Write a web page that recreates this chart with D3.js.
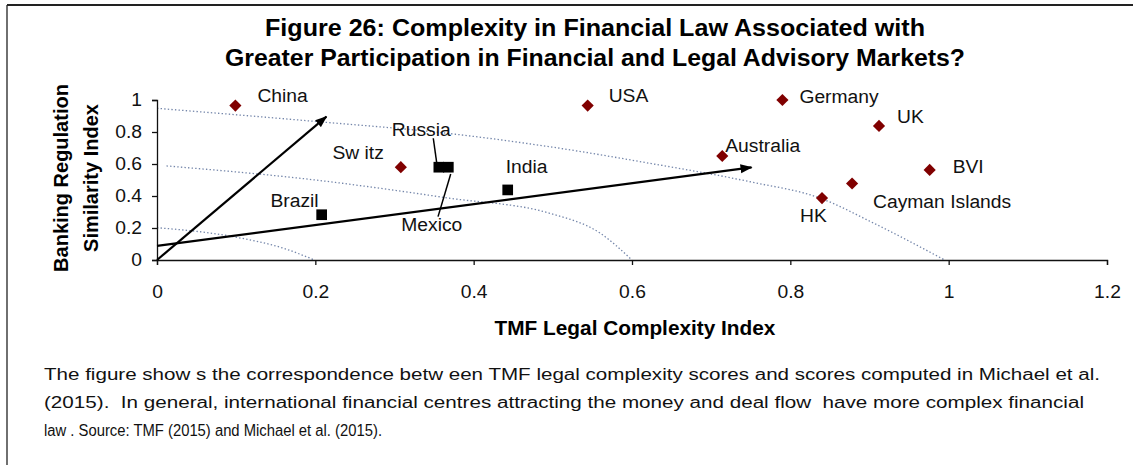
<!DOCTYPE html>
<html>
<head>
<meta charset="utf-8">
<script src="https://cdn.jsdelivr.net/npm/d3@7"></script>
<style>
  body { margin: 0; background: #fff; }
  text { font-family: Arial, "Liberation Sans", sans-serif; }
</style>
</head>
<body>
<script>

var width  = 1133;
var height = 465;

// financial centres (diamonds)
var centres    = ['China', 'USA', 'Germany', 'UK', 'Australia', 'BVI', 'Cayman Islands', 'HK', 'Sw itz'];
var centresTmf = [0.099, 0.544, 0.790, 0.912, 0.714, 0.976, 0.878, 0.840, 0.308];
var centresReg = [0.965, 0.965, 1.000, 0.838, 0.650, 0.563, 0.478, 0.387, 0.580];

// emerging markets (squares)
var emerging    = ['Brazil', 'Russia', 'Mexico', 'India'];
var emergingTmf = [0.208, 0.356, 0.368, 0.443];
var emergingReg = [0.283, 0.580, 0.580, 0.438];

var xTicks = [0, 0.2, 0.4, 0.6, 0.8, 1, 1.2];
var yTicks = [0, 0.2, 0.4, 0.6, 0.8, 1];

// arrows drawn on the chart, [start, end]
var arrows = [
  [[0, 0],     [0.214, 0.896]],
  [[0, 0.088], [0.751, 0.579]]
];

// dotted iso-curves
var curves = [
  [[0, 0.948], [0.2, 0.866], [0.37, 0.79], [0.496, 0.708], [0.623, 0.604], [0.749, 0.489], [0.838, 0.386], [0.905, 0.231], [0.995, 0]],
  [[0.012, 0.588], [0.2, 0.5], [0.37, 0.386], [0.496, 0.292], [0.56, 0.167], [0.6, 0]],
  [[0, 0.202], [0.096, 0.146], [0.16, 0.073], [0.199, 0]]
];

// leader lines for overlapping labels
var leaders = [
  [[0.349, 0.761], [0.354, 0.583]],
  [[0.371, 0.538], [0.355, 0.271]]
];

var titleLines = ['Figure 26: Complexity in Financial Law Associated with',
                  'Greater Participation in Financial and Legal Advisory Markets?'];
var yTitleLines = ['Banking Regulation', 'Similarity Index'];
var xTitle = 'TMF Legal Complexity Index';
var captionLines = [
  'The figure show s the correspondence betw een TMF legal complexity scores and scores computed in Michael et al.',
  '(2015).  In general, international financial centres attracting the money and deal flow  have more complex financial',
  'law . Source: TMF (2015) and Michael et al. (2015).'
];

// layout: title / caption line widths, label offsets from the marker (px)
var titleWidths   = [660, 740];
var captionWidths = [1056, 1040, 338];
var labelPos = {
  'China':          [22, -4, 'start'],
  'USA':            [21, -4, 'start'],
  'Germany':        [17, 3, 'start'],
  'UK':             [18, -3, 'start'],
  'Australia':      [3, -4, 'start'],
  'BVI':            [23, 3, 'start'],
  'Cayman Islands': [21, 24, 'start'],
  'HK':             [-22, 24, 'start'],
  'Sw itz':         [-17, -8, 'end'],
  'Brazil':         [-3, -8, 'end'],
  'Russia':         [-47, -31, 'start'],
  'India':          [-2, -17, 'start'],
  'Mexico':         [-47, 64, 'start']
};

function widen(sel, f) {
  sel.each(function(){
    var w = this.getComputedTextLength();
    d3.select(this).attr('textLength', w * f).attr('lengthAdjust', 'spacingAndGlyphs');
  });
}

var x = d3.scaleLinear().domain([0, 1.2]).range([157, 1107]);
var y = d3.scaleLinear().domain([0, 1]).range([260, 100]);

var svg = d3.select('body')
            .append('svg')
            .attr('width', width)
            .attr('height', height);

// frame
svg.append('line').attr('x1', 7).attr('x2', width).attr('y1', 5).attr('y2', 5)
   .attr('stroke', '#222').attr('stroke-width', 2);
svg.append('line').attr('x1', 7).attr('x2', 7).attr('y1', 5).attr('y2', height)
   .attr('stroke', '#222').attr('stroke-width', 1.3);

// title
svg.append('g').selectAll('text')
   .data(titleLines)
   .enter()
   .append('text')
   .attr('x', 595)
   .attr('y', function(d, i){ return 36 + i * 30; })
   .attr('text-anchor', 'middle')
   .attr('font-size', '23px')
   .attr('font-weight', 'bold')
   .attr('textLength', function(d, i){ return titleWidths[i]; })
   .attr('lengthAdjust', 'spacingAndGlyphs')
   .text(function(d){ return d; });

// dotted curves
var curveLine = d3.line()
                  .x(function(d){ return x(d[0]); })
                  .y(function(d){ return y(d[1]); })
                  .curve(d3.curveMonotoneX);

svg.append('g').selectAll('path')
   .data(curves)
   .enter()
   .append('path')
   .attr('d', curveLine)
   .attr('fill', 'none')
   .attr('stroke', '#7486aa')
   .attr('stroke-width', 1.3)
   .attr('stroke-dasharray', '1.4,2.2');

// axes
var xAxis = d3.axisBottom(x).tickValues(xTicks).tickSize(5).tickPadding(20)
              .tickFormat(function(d){ return d3.format('~g')(d); });
var yAxis = d3.axisLeft(y).tickValues(yTicks).tickSize(5).tickPadding(10)
              .tickFormat(function(d){ return d3.format('~g')(d); });

var gx = svg.append('g').attr('transform', 'translate(0,260)').call(xAxis);
var gy = svg.append('g').attr('transform', 'translate(157,0)').call(yAxis);

[gx, gy].forEach(function(g){
  g.select('.domain').attr('stroke', '#111').attr('stroke-width', 1.3);
  g.selectAll('.tick line').attr('stroke', '#111').attr('stroke-width', 1.3);
  g.selectAll('.tick text').attr('font-size', '18px').attr('fill', '#111')
   .attr('font-family', 'Arial, "Liberation Sans", sans-serif');
  widen(g.selectAll('.tick text'), 1.07);
});

// axis titles
svg.append('text')
   .attr('x', 635).attr('y', 335)
   .attr('text-anchor', 'middle')
   .attr('font-size', '20px').attr('font-weight', 'bold')
   .text(xTitle)
   .call(widen, 1.04);

svg.append('g').selectAll('text')
   .data(yTitleLines)
   .enter()
   .append('text')
   .attr('transform', function(d, i){ return 'translate(' + (68 + i * 30) + ',178) rotate(-90)'; })
   .attr('text-anchor', 'middle')
   .attr('font-size', '20px').attr('font-weight', 'bold')
   .text(function(d){ return d; });

// arrows
var defs = svg.append('defs');
defs.append('marker')
    .attr('id', 'head')
    .attr('markerUnits', 'userSpaceOnUse')
    .attr('viewBox', '0 -5 12 10')
    .attr('refX', 11).attr('refY', 0)
    .attr('markerWidth', 12).attr('markerHeight', 10)
    .attr('orient', 'auto')
    .append('path')
    .attr('d', 'M0,-4.5L12,0L0,4.5Z')
    .attr('fill', '#000');

svg.append('g').selectAll('line')
   .data(arrows)
   .enter()
   .append('line')
   .attr('x1', function(d){ return x(d[0][0]); })
   .attr('y1', function(d){ return y(d[0][1]); })
   .attr('x2', function(d){ return x(d[1][0]); })
   .attr('y2', function(d){ return y(d[1][1]); })
   .attr('stroke', '#000')
   .attr('stroke-width', 2.2)
   .attr('marker-end', 'url(#head)');

// leader lines
svg.append('g').selectAll('line')
   .data(leaders)
   .enter()
   .append('line')
   .attr('x1', function(d){ return x(d[0][0]); })
   .attr('y1', function(d){ return y(d[0][1]); })
   .attr('x2', function(d){ return x(d[1][0]); })
   .attr('y2', function(d){ return y(d[1][1]); })
   .attr('stroke', '#000')
   .attr('stroke-width', 1.5);

// diamonds
var diamond = d3.symbol().type(d3.symbolSquare).size(74);
svg.append('g').selectAll('path')
   .data(centres)
   .enter()
   .append('path')
   .attr('d', diamond)
   .attr('transform', function(d, i){
      return 'translate(' + x(centresTmf[i]) + ',' + y(centresReg[i]) + ') rotate(45)';
   })
   .attr('fill', '#800000');

// squares
var square = d3.symbol().type(d3.symbolSquare).size(114);
svg.append('g').selectAll('path')
   .data(emerging)
   .enter()
   .append('path')
   .attr('d', square)
   .attr('transform', function(d, i){
      return 'translate(' + x(emergingTmf[i]) + ',' + y(emergingReg[i]) + ')';
   })
   .attr('fill', '#000');

// point labels
var allNames = centres.concat(emerging);
var allTmf   = centresTmf.concat(emergingTmf);
var allReg   = centresReg.concat(emergingReg);

svg.append('g').selectAll('text')
   .data(allNames)
   .enter()
   .append('text')
   .attr('x', function(d, i){ return x(allTmf[i]) + labelPos[d][0]; })
   .attr('y', function(d, i){ return y(allReg[i]) + labelPos[d][1]; })
   .attr('text-anchor', function(d){ return labelPos[d][2]; })
   .attr('font-size', '18px')
   .attr('fill', '#111')
   .text(function(d){ return d; })
   .call(widen, 1.07);

// caption
svg.append('g').selectAll('text')
   .data(captionLines)
   .enter()
   .append('text')
   .attr('x', 44)
   .attr('y', function(d, i){ return 380 + i * 28; })
   .attr('font-size', '16px')
   .attr('fill', '#111')
   .attr('textLength', function(d, i){ return captionWidths[i]; })
   .attr('lengthAdjust', 'spacingAndGlyphs')
   .style('white-space', 'pre')
   .text(function(d){ return d; });

</script>
</body>
</html>
